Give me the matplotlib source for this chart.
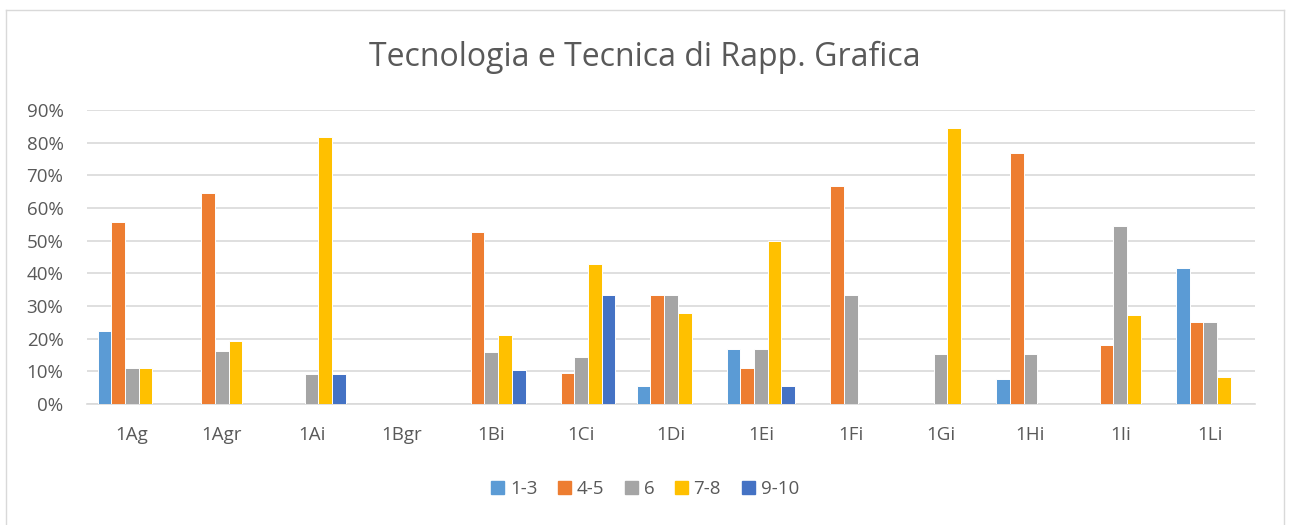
import numpy as np
import matplotlib
matplotlib.use('Agg')
import matplotlib.pyplot as plt
from matplotlib.lines import Line2D

plt.rcParams['font.family'] = ['Open Sans', 'DejaVu Sans']

# data (percent of students per grade band, per class)
classes = ['1Ag', '1Agr', '1Ai', '1Bgr', '1Bi', '1Ci', '1Di', '1Ei', '1Fi', '1Gi', '1Hi', '1Ii', '1Li']
series = ['1-3', '4-5', '6', '7-8', '9-10']
v_1_3 = [22.2, 0, 0, 0, 0, 0, 5.6, 16.7, 0, 0, 7.7, 0, 41.7]
v_4_5 = [55.6, 64.5, 0, 0, 52.6, 9.5, 33.3, 11.1, 66.7, 0, 76.9, 18.2, 25.0]
v_6 = [11.1, 16.1, 9.1, 0, 15.8, 14.3, 33.3, 16.7, 33.3, 15.4, 15.4, 54.5, 25.0]
v_7_8 = [11.1, 19.4, 81.8, 0, 21.1, 42.9, 27.8, 50.0, 0, 84.6, 0, 27.3, 8.3]
v_9_10 = [0, 0, 9.1, 0, 10.5, 33.3, 0, 5.6, 0, 0, 0, 0, 0]
colors = ['#5B9BD5', '#ED7D31', '#A5A5A5', '#FFC000', '#4472C4']

values = [v_1_3, v_4_5, v_6, v_7_8, v_9_10]

fig = plt.figure(figsize=(12.89, 5.25), dpi=100)
ax = fig.add_axes([87/1289, 1-404/525, (1255-87)/1289, (404-110)/525])

x = np.arange(len(classes))
w = 0.1525
for i, (vals, c) in enumerate(zip(values, colors)):
    ax.bar(x + (i - 2)*w, vals, width=w, color=c, edgecolor='white', linewidth=0.7, zorder=3)

ax.set_xlim(-0.5, len(classes) - 0.5)
ax.set_ylim(0, 90)
ax.set_yticks(np.arange(0, 91, 10))
ax.set_yticklabels([f'{t}%' for t in range(0, 91, 10)])
ax.set_xticks(x)
ax.set_xticklabels(classes)
ax.grid(axis='y', color='#d9d9d9', linewidth=1.2, zorder=0)
for s in ['top', 'right', 'left']:
    ax.spines[s].set_visible(False)
ax.spines['bottom'].set_color('#d9d9d9')
ax.spines['bottom'].set_linewidth(1.2)
ax.tick_params(axis='both', length=0, labelsize=13.5, labelcolor='#595959')
ax.tick_params(axis='y', pad=17)
ax.tick_params(axis='x', pad=16)

fig.text(645/1289, 1-57/525, 'Tecnologia e Tecnica di Rapp. Grafica', ha='center', va='center',
         fontsize=23, color='#595959')

handles = [plt.Rectangle((0, 0), 1, 1, color=c) for c in colors]
fig.legend(handles, series, loc='center', bbox_to_anchor=(645/1289, 1-489/525), ncol=5, frameon=False,
           fontsize=13.5, labelcolor='#595959', handlelength=0.7, handleheight=0.7,
           handletextpad=0.3, columnspacing=1.1)

# outer chart border
for xs, ys in [([6, 6], [10, 530]), ([6, 1284], [10, 10]), ([1284, 1284], [10, 530])]:
    fig.add_artist(Line2D([a/1289 for a in xs], [1 - b/525 for b in ys], color='#d9d9d9', linewidth=1.0))

fig.savefig('out.png', dpi=100)
